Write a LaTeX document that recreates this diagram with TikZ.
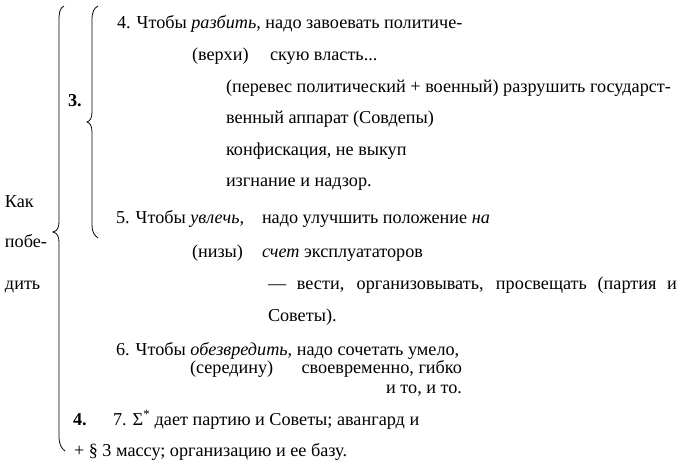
\documentclass[tikz,border=0pt]{standalone}
\usepackage{fontspec}
\setmainfont{Liberation Serif}
\begin{document}
\begin{tikzpicture}[x=1pt,y=-1pt,
  txt/.style={anchor=base west, inner sep=0pt, outer sep=0pt, font=\fontsize{18.2}{22}\selectfont},
  txtr/.style={txt, anchor=base east},
  bold/.style={txt, font=\fontsize{18.2}{22}\selectfont\bfseries},
  brace/.style={draw=black, line width=0.8pt}]
\useasboundingbox (0,0) rectangle (680,469);
% braces
\draw[brace] (64,6) .. controls (60,8) and (59,12) .. (59,20) -- (59,222)
  .. controls (59,228) and (57,231) .. (53,232)
  .. controls (57,233) and (59,236) .. (59,242) -- (59,436)
  .. controls (59,444) and (61,448) .. (65,451);
\draw[brace] (98,6) .. controls (94,8) and (92,12) .. (92,20) -- (92,112)
  .. controls (92,118) and (90,121) .. (87,122)
  .. controls (90,123) and (92,126) .. (92,132) -- (92,225)
  .. controls (92,232) and (94,235) .. (98,238);
% left labels
\node[txt] (kak) at (5,207) {Как};
\node[txt] (pobe) at (5,247) {побе-};
\node[txt] (dit) at (5,289) {дить};
\node[bold] (n3) at (68,106) {3.};
\node[bold] (n4) at (73,425) {4.};
% text lines
\node[txt] (l1) at (117,28) {4. Чтобы \textit{разбить,} надо завоевать политиче-};
\node[txt] (l2a) at (192,60) {(верхи)};
\node[txt] (l2b) at (270,60) {скую власть...};
\node[txt] (l3) at (226,92) {(перевес политический + военный) разрушить государст-};
\node[txt] (l4) at (226,123) {венный аппарат (Совдепы)};
\node[txt] (l5) at (226,155) {конфискация, не выкуп};
\node[txt] (l6) at (226,186) {изгнание и надзор.};
\node[txt] (l7a) at (116,223) {5. Чтобы \textit{увлечь,}};
\node[txt] (l7b) at (262,223) {надо улучшить положение \textit{на}};
\node[txt] (l8a) at (192,257) {(низы)};
\node[txt] (l8b) at (262,257) {\textit{счет} эксплуататоров};
\node[txt] (l9) at (268,289) {\makebox[409pt][s]{— вести, организовывать, просвещать (партия и}};
\node[txt] (l10) at (268,321) {Советы).};
\node[txt] (l11) at (116,355) {6. Чтобы \textit{обезвредить,} надо сочетать умело,};
\node[txt] (l12a) at (190,373) {(середину)};
\node[txtr] (l12b) at (462,373) {своевременно, гибко};
\node[txtr] (l13) at (462,393) {и то, и то.};
\node[txt] (l14) at (113,425) {7. Σ\textsuperscript{*} дает партию и Советы; авангард и};
\node[txt] (l15) at (74,456) {+ § 3 массу; организацию и ее базу.};
\end{tikzpicture}
\end{document}
